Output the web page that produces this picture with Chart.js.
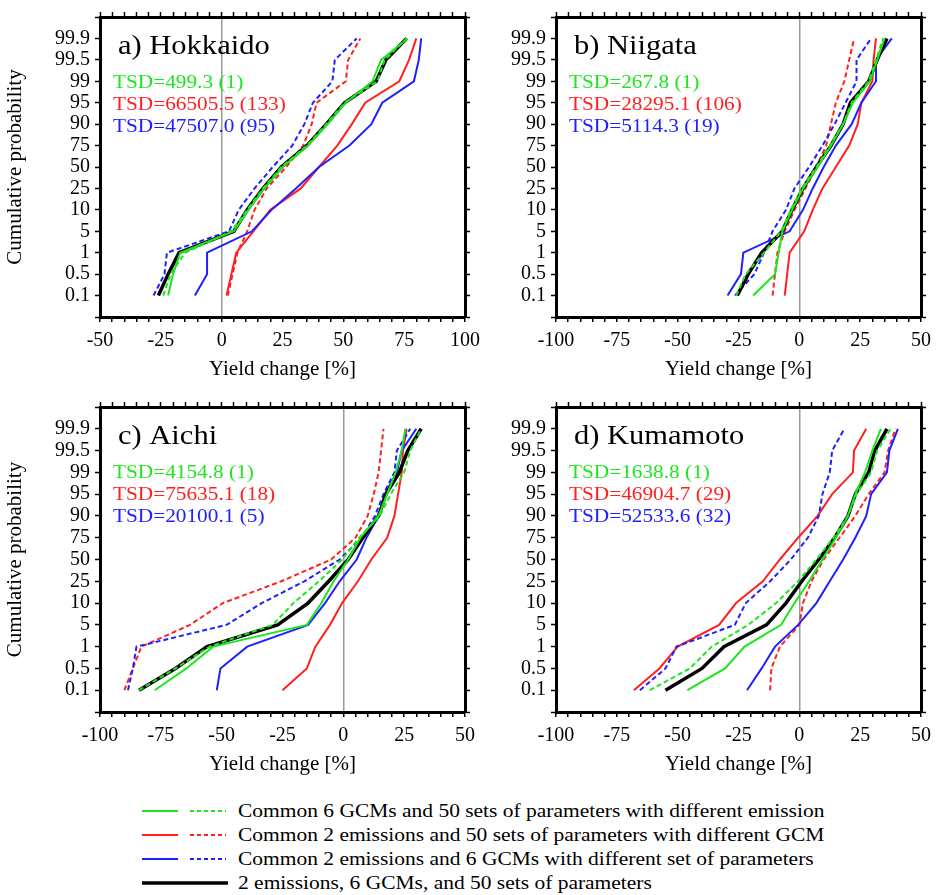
<!DOCTYPE html>
<html>
<head>
<meta charset="utf-8">
<script src="https://cdn.jsdelivr.net/npm/chart.js@4.4.1/dist/chart.umd.min.js"></script>
<style>
  body { margin: 0; background: #fff; width: 938px; height: 895px; position: relative; overflow: hidden; font-family: 'Liberation Serif', serif; }
  canvas.panel { position: absolute; }
  .row { position: absolute; left: 142px; height: 24px; white-space: nowrap; }
  .row svg { position: absolute; left: 0; top: 0; }
  .row span { position: absolute; left: 96px; top: 0; font-size: 19px; line-height: 24px; color: #000; transform: scaleX(1.13); transform-origin: 0 50%; }
</style>
</head>
<body>
<canvas id="pa" class="panel" width="490" height="390" style="left:0;top:0"></canvas>
<canvas id="pb" class="panel" width="468" height="390" style="left:470px;top:0"></canvas>
<canvas id="pc" class="panel" width="490" height="395" style="left:0;top:390px"></canvas>
<canvas id="pd" class="panel" width="468" height="395" style="left:470px;top:390px"></canvas>
<div id="legend"></div>

<script>
// probability levels (evenly spaced on the y axis)
const probLabels = ['0.1', '0.5', '1', '5', '10', '25', '50', '75', '90', '95', '99', '99.5', '99.9'];

// a) Hokkaido
const aGreen     = [-22, -20, -17, 5, 11, 17.5, 25, 35.5, 43.5, 51, 62, 65.5, 76.5];
const aGreenDash = [-24, -21, -15, 4, 10.5, 17, 24.5, 35, 43, 50.5, 64, 67, 76];
const aRed       = [2, 4, 6, 13, 20, 32.5, 40, 47.5, 53.5, 59, 73, 77, 80];
const aRedDash   = [2.5, 4.5, 6.5, 10.5, 13.5, 18.5, 26.5, 33.5, 37, 39, 51, 52, 57];
const aBlue      = [-11, -6, -6, 12.5, 20.5, 30.5, 40, 52.5, 61.5, 66, 79, 81, 82];
const aBlueDash  = [-28, -23.5, -22.5, 3, 7, 13.5, 21, 29, 34, 37.5, 45.5, 46.5, 55.5];
const aBlack     = [-26, -22, -17.5, 5, 10.5, 17, 24.5, 35, 43, 50.5, 63.5, 67.5, 76];

// b) Niigata
const bGreen     = [-19, -10, -8.5, -7, -3, 1.5, 7.5, 13, 18, 22, 29, 32, 35];
const bGreenDash = [-26, -22, -14.5, -7.5, -3.5, 1, 7, 12.5, 18, 21.5, 28.5, 31.5, 34.5];
const bRed       = [-6, -5, -4, 2, 5.5, 9.5, 15, 20.5, 24, 25.5, 30, 30.5, 31.5];
const bRedDash   = [-11, -10, -9, -6, -2, 2.5, 7, 11, 13, 15, 18.5, 20.5, 22.5];
const bBlue      = [-29.5, -24, -23, -4, 1.5, 5.5, 10, 15, 21.5, 25.5, 31.5, 31.5, 38];
const bBlueDash  = [-26.5, -18.5, -14.5, -11, -5.5, -2, 4, 9.5, 14.5, 19, 23.5, 23.5, 29.5];
const bBlack     = [-25.5, -21, -15.5, -7, -3, 1.5, 7, 13, 18, 21, 28.5, 32, 36];

// c) Aichi
const cGreen     = [-77.5, -64.5, -53.5, -15, -9, -4, 2, 7, 14.5, 18, 21.5, 24, 25.5];
const cGreenDash = [-84, -69, -55, -29, -20.5, -10, -0.5, 6.5, 15, 19.5, 25, 27.5, 32];
const cRed       = [-25, -15, -11.5, -5.5, -0.5, 6, 11.5, 18, 21, 22.5, 24, 24.5, 26];
const cRedDash   = [-90, -86.5, -83, -63, -49.5, -25.5, -5, 5, 10, 12.5, 14.5, 15.5, 16.5];
const cBlue      = [-52, -50.5, -39.5, -14.5, -7.5, -1.5, 5.5, 9.5, 14.5, 17, 22, 24, 30];
const cBlueDash  = [-88.5, -86.5, -85, -48, -33.5, -16, -1.5, 7.5, 13, 16.5, 21, 22, 27.5];
const cBlack     = [-84, -69, -56, -27, -14.5, -6, 2, 8, 14.5, 17.5, 23, 26.5, 32];

// d) Kumamoto
const dGreen     = [-46, -30.5, -22.5, -7.5, -2, 4, 9.5, 15, 20, 23, 27, 30, 33.5];
const dGreenDash = [-61.5, -45, -36, -21, -9.5, -0.5, 7, 14, 20, 23.5, 29.5, 32, 37.5];
const dRed       = [-68, -57.5, -50, -33, -26, -15, -8, -0.5, 7.5, 13.5, 22, 22.5, 27.5];
const dRedDash   = [-12, -11.5, -8, 0, 1.5, 5, 10, 16.5, 23, 28.5, 35, 36.5, 39.5];
const dBlue      = [-21.5, -15.5, -10, -0.5, 7, 12.5, 18, 23, 27.5, 29.5, 36, 37, 40.5];
const dBlueDash  = [-65.5, -55, -50.5, -26.5, -22, -12, -3.5, 3.5, 8, 9.5, 12.5, 13.5, 18.5];
const dBlack     = [-55, -40, -31, -13.5, -5.5, 1, 8, 14.5, 20, 23, 28.5, 31, 36];

const tsdA = ['TSD=499.3 (1)', 'TSD=66505.5 (133)', 'TSD=47507.0 (95)'];
const tsdB = ['TSD=267.8 (1)', 'TSD=28295.1 (106)', 'TSD=5114.3 (19)'];
const tsdC = ['TSD=4154.8 (1)', 'TSD=75635.1 (18)', 'TSD=20100.1 (5)'];
const tsdD = ['TSD=1638.8 (1)', 'TSD=46904.7 (29)', 'TSD=52533.6 (32)'];

const legendTexts = [
  'Common 6 GCMs and 50 sets of parameters with different emission',
  'Common 2 emissions and 50 sets of parameters with different GCM',
  'Common 2 emissions and 6 GCMs with different set of parameters',
  '2 emissions, 6 GCMs, and 50 sets of parameters'
];

const GREEN = '#1ee61e', RED = '#ff2020', BLUE = '#2020ff', BLACK = '#000';
const FONT = '"Liberation Serif"';

Chart.defaults.font.family = FONT;
Chart.defaults.color = '#000';

function series(values, color, dashed, width) {
  return {
    data: values.map((v, i) => ({ x: v, y: i })),
    showLine: true,
    borderColor: color,
    backgroundColor: color,
    borderWidth: width,
    borderDash: dashed ? [5, 3] : [],
    pointRadius: 0,
    tension: 0,
    xAxisID: 'x',
    yAxisID: 'y'
  };
}

// panel title and TSD lines inside the plot (the original text runs a bit wide)
const panelText = {
  id: 'panelText',
  afterDraw(chart, args, opts) {
    const ctx = chart.ctx, area = chart.chartArea;
    ctx.save();
    ctx.textAlign = 'left';
    ctx.textBaseline = 'alphabetic';
    ctx.fillStyle = '#000';
    ctx.font = '27px ' + FONT;
    ctx.save();
    ctx.translate(area.left + 18, area.top + 37);
    ctx.scale(1.13, 1);
    ctx.fillText(opts.title, 0, 0);
    ctx.restore();
    ctx.font = '19px ' + FONT;
    const cols = [GREEN, RED, BLUE];
    opts.tsd.forEach((t, i) => {
      ctx.save();
      ctx.translate(area.left + 13, area.top + 71 + 22 * i);
      ctx.scale(1.12, 1);
      ctx.fillStyle = cols[i];
      ctx.fillText(t, 0, 0);
      ctx.restore();
    });
    ctx.restore();
  }
};

function makePanel(id, p) {
  const frame = { display: true, color: '#000', width: 3 };
  const tickGrid = { drawOnChartArea: false, drawTicks: true, tickLength: 5, tickColor: '#000', tickWidth: 1.5 };

  new Chart(document.getElementById(id), {
    type: 'scatter',
    data: {
      datasets: [
        series(p.greenDash, GREEN, true, 2),
        series(p.green, GREEN, false, 2),
        series(p.black, BLACK, false, 3.5),
        series(p.blueDash, BLUE, true, 2),
        series(p.blue, BLUE, false, 2),
        series(p.redDash, RED, true, 2),
        series(p.red, RED, false, 2)
      ]
    },
    options: {
      responsive: false,
      animation: false,
      layout: { padding: 0 },
      plugins: {
        legend: { display: false },
        tooltip: { enabled: false },
        panelText: { title: p.title, tsd: p.tsd }
      },
      scales: {
        x: {
          type: 'linear', position: 'bottom', min: p.xMin, max: p.xMax,
          border: frame,
          grid: {
            drawOnChartArea: true, drawTicks: true, tickLength: 5, tickColor: '#000', tickWidth: 1.5,
            color: c => (c.tick && c.tick.value === 0) ? '#9a9a9a' : 'rgba(0,0,0,0)',
            lineWidth: 1.5
          },
          ticks: {
            stepSize: 5, autoSkip: false, maxRotation: 0, padding: 7,
            font: { size: 20 },
            callback: v => (v % 25 === 0 ? String(v) : '')
          },
          title: { display: true, text: 'Yield change [%]', font: { size: 21 }, padding: { top: 0, bottom: 8 } },
          afterFit: s => { s.height = p.bottomH; }
        },
        x2: {
          type: 'linear', position: 'top', min: p.xMin, max: p.xMax,
          border: frame, grid: tickGrid,
          ticks: { display: false, stepSize: 5, autoSkip: false },
          afterFit: s => { s.height = p.topH; }
        },
        y: {
          type: 'linear', position: 'left', min: -1, max: 13,
          border: frame, grid: tickGrid,
          ticks: {
            stepSize: 1, autoSkip: false, padding: 5,
            font: { size: 20 },
            callback: v => (probLabels[v] !== undefined ? probLabels[v] : '')
          },
          title: { display: p.yTitle, text: 'Cumulative probability', font: { size: 21 }, padding: { top: 3, bottom: 0 } },
          afterFit: s => { s.width = p.leftW; }
        },
        y2: {
          type: 'linear', position: 'right', min: -1, max: 13,
          border: frame, grid: tickGrid,
          ticks: { display: false, stepSize: 1, autoSkip: false },
          afterFit: s => { s.width = p.rightW; }
        }
      }
    },
    plugins: [panelText]
  });
}

makePanel('pa', { title: 'a) Hokkaido', tsd: tsdA, xMin: -50, xMax: 100, yTitle: true, leftW: 100, rightW: 25, topH: 13, bottomH: 73,
  green: aGreen, greenDash: aGreenDash, red: aRed, redDash: aRedDash, blue: aBlue, blueDash: aBlueDash, black: aBlack });
makePanel('pb', { title: 'b) Niigata', tsd: tsdB, xMin: -100, xMax: 50, yTitle: false, leftW: 86, rightW: 16, topH: 13, bottomH: 73,
  green: bGreen, greenDash: bGreenDash, red: bRed, redDash: bRedDash, blue: bBlue, blueDash: bBlueDash, black: bBlack });
makePanel('pc', { title: 'c) Aichi', tsd: tsdC, xMin: -100, xMax: 50, yTitle: true, leftW: 100, rightW: 25, topH: 16, bottomH: 73,
  green: cGreen, greenDash: cGreenDash, red: cRed, redDash: cRedDash, blue: cBlue, blueDash: cBlueDash, black: cBlack });
makePanel('pd', { title: 'd) Kumamoto', tsd: tsdD, xMin: -100, xMax: 50, yTitle: false, leftW: 86, rightW: 16, topH: 16, bottomH: 73,
  green: dGreen, greenDash: dGreenDash, red: dRed, redDash: dRedDash, blue: dBlue, blueDash: dBlueDash, black: dBlack });

// legend
const legendColors = [GREEN, RED, BLUE, BLACK];
const legendRowsY = [811, 835, 859, 883];
const legend = document.getElementById('legend');
legendTexts.forEach((txt, i) => {
  const row = document.createElement('div');
  row.className = 'row';
  row.style.top = (legendRowsY[i] - 12) + 'px';
  const col = legendColors[i];
  let svg;
  if (i < 3) {
    svg = '<svg width="90" height="24"><line x1="0" y1="12" x2="36" y2="12" stroke="' + col + '" stroke-width="2"/>' +
          '<line x1="48" y1="12" x2="84" y2="12" stroke="' + col + '" stroke-width="2" stroke-dasharray="4 3"/></svg>';
  } else {
    svg = '<svg width="90" height="24"><line x1="0" y1="12" x2="86" y2="12" stroke="#000" stroke-width="3.5"/></svg>';
  }
  row.innerHTML = svg + '<span>' + txt + '</span>';
  legend.appendChild(row);
});
</script>
</body>
</html>
